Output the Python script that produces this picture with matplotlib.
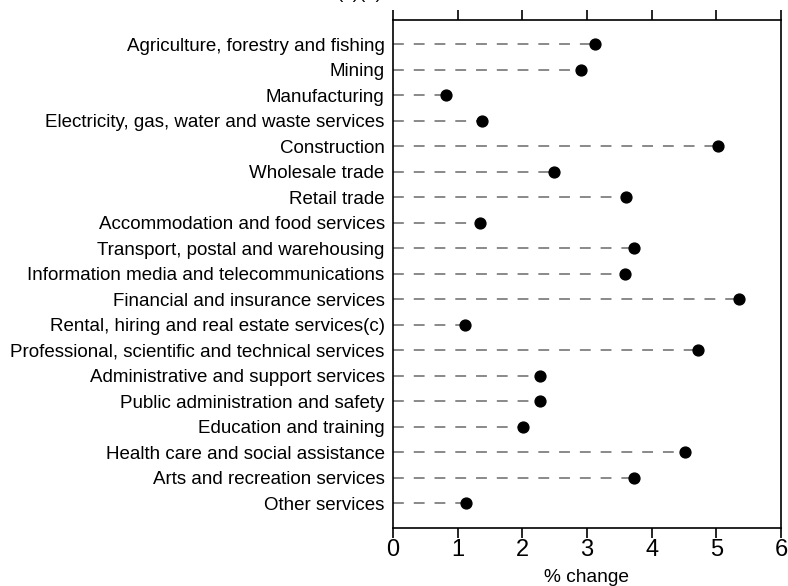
import matplotlib
matplotlib.use("Agg")
import matplotlib.pyplot as plt

categories = [
    "Agriculture, forestry and fishing",
    "Mining",
    "Manufacturing",
    "Electricity, gas, water and waste services",
    "Construction",
    "Wholesale trade",
    "Retail trade",
    "Accommodation and food services",
    "Transport, postal and warehousing",
    "Information media and telecommunications",
    "Financial and insurance services",
    "Rental, hiring and real estate services(c)",
    "Professional, scientific and technical services",
    "Administrative and support services",
    "Public administration and safety",
    "Education and training",
    "Health care and social assistance",
    "Arts and recreation services",
    "Other services",
]
values = [3.13, 2.91, 0.82, 1.38, 5.03, 2.49, 3.61, 1.35, 3.72, 3.59,
          5.35, 1.12, 4.72, 2.27, 2.28, 2.01, 4.52, 3.73, 1.13]
xticks = [0, 1, 2, 3, 4, 5, 6]

plt.rcParams['font.family'] = ['Liberation Sans', 'DejaVu Sans']

fig = plt.figure(figsize=(7.88, 5.86), dpi=100)
ax = fig.add_axes([393/788, 1 - 528/586, (781 - 393)/788, (528 - 20)/586])

ypos = list(range(len(categories)))
for y, v in zip(ypos, values):
    ax.plot([0, v], [y, y], color='#808080', lw=1.3, dashes=(6, 5.5), zorder=1)
ax.plot(values, ypos, 'o', color='black', markersize=7.8, zorder=2, linestyle='none')

ax.set_xlim(0, 6)
ax.set_ylim(18.98, -0.95)
ax.set_yticks(ypos)
ax.set_yticklabels(categories, fontsize=13.5)
ax.tick_params(axis='y', length=0, pad=6)
ax.set_xticks(xticks)
ax.set_xticklabels([str(t) for t in xticks], fontsize=17)
ax.tick_params(axis='x', direction='out', length=7, width=1.2, top=True, labeltop=False, pad=1)
for s in ax.spines.values():
    s.set_linewidth(1.2)
ax.set_xlabel("% change", fontsize=13.8, labelpad=6)

fig.text(383/788, 1 + 2/586, "(a)(b)", ha='right', va='baseline', fontsize=13.5)

fig.savefig("out.png", dpi=100)
